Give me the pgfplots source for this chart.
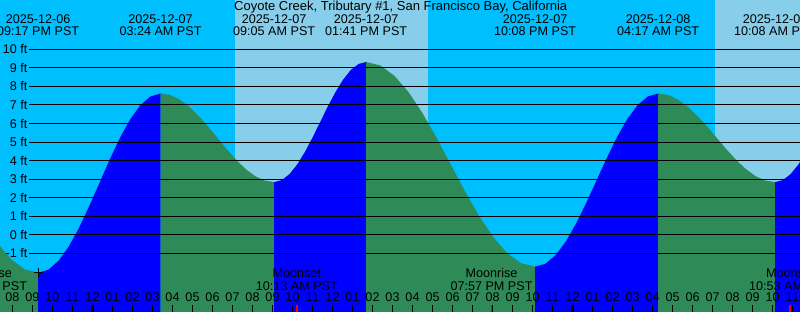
\documentclass[border=0pt]{standalone}
\usepackage{fontspec}
\setmainfont{Liberation Sans}
\usepackage{pgfplots}
\pgfplotsset{compat=1.18}
\definecolor{night}{RGB}{0,191,255}
\definecolor{day}{RGB}{135,206,235}
\definecolor{rise}{RGB}{0,0,255}
\definecolor{fall}{RGB}{46,139,87}
\newcommand\fs{\fontsize{12.6}{14}\selectfont}
\newcommand\ft{\fontsize{13}{15}\selectfont}
\begin{document}
\begin{tikzpicture}
\begin{axis}[
  at={(0pt,0pt)}, anchor=south west,
  width=800pt, height=312pt, scale only axis,
  xmin=-4.625, xmax=35.375, ymin=-4.163, ymax=12.661,
  axis lines=none, xtick=\empty, ytick=\empty, clip=true,
]
% night background
\addplot[fill=night, draw=none] coordinates {(-6,-5) (-6,13) (37,13) (37,-5)};
% day backgrounds
\addplot[fill=day, draw=none] coordinates {(7.125,-5) (7.125,13) (16.775,13) (16.775,-5)};
\addplot[fill=day, draw=none] coordinates {(31.125,-5) (31.125,13) (37,13) (37,-5)};
% tide: falling
\addplot[fill=fall, draw=none] coordinates {(-11,-5) (-11.000,9.250) (-10.310,9.057) (-9.619,8.493) (-8.929,7.595) (-8.239,6.425) (-7.549,5.062) (-6.859,3.600) (-6.168,2.138) (-5.478,0.775) (-4.788,-0.395) (-4.098,-1.293) (-3.407,-1.857) (-2.717,-2.050) (-2.717,-5)};
% rising
\addplot[fill=rise, draw=none] coordinates {(-2.717,-5) (-2.717,-2.050) (-2.207,-1.885) (-1.698,-1.402) (-1.188,-0.634) (-0.678,0.368) (-0.168,1.534) (0.342,2.785) (0.851,4.036) (1.361,5.203) (1.871,6.204) (2.381,6.972) (2.890,7.455) (3.400,7.620) (3.400,-5)};
% falling
\addplot[fill=fall, draw=none] coordinates {(3.400,-5) (3.400,7.620) (3.874,7.539) (4.347,7.300) (4.821,6.920) (5.294,6.425) (5.768,5.849) (6.242,5.230) (6.715,4.611) (7.189,4.035) (7.662,3.540) (8.136,3.160) (8.609,2.921) (9.083,2.840) (9.083,-5)};
% rising
\addplot[fill=rise, draw=none] coordinates {(9.083,-5) (9.083,2.840) (9.466,2.950) (9.850,3.274) (10.233,3.789) (10.616,4.460) (11.000,5.241) (11.383,6.080) (11.766,6.919) (12.150,7.700) (12.533,8.371) (12.916,8.886) (13.300,9.210) (13.683,9.320) (13.683,-5)};
% falling
\addplot[fill=fall, draw=none] coordinates {(13.683,-5) (13.683,9.320) (14.387,9.132) (15.091,8.580) (15.796,7.703) (16.500,6.560) (17.204,5.229) (17.908,3.800) (18.612,2.371) (19.316,1.040) (20.021,-0.103) (20.725,-0.981) (21.429,-1.532) (22.133,-1.720) (22.133,-5)};
% rising
\addplot[fill=rise, draw=none] coordinates {(22.133,-5) (22.133,-1.720) (22.646,-1.561) (23.158,-1.094) (23.671,-0.352) (24.183,0.615) (24.696,1.741) (25.208,2.950) (25.721,4.159) (26.233,5.285) (26.746,6.252) (27.258,6.994) (27.771,7.461) (28.283,7.620) (28.283,-5)};
% falling
\addplot[fill=fall, draw=none] coordinates {(28.283,-5) (28.283,7.620) (28.771,7.539) (29.258,7.300) (29.746,6.920) (30.233,6.425) (30.721,5.849) (31.208,5.230) (31.696,4.611) (32.183,4.035) (32.671,3.540) (33.158,3.160) (33.646,2.921) (34.133,2.840) (34.133,-5)};
% rising
\addplot[fill=rise, draw=none] coordinates {(34.133,-5) (34.133,2.840) (34.516,2.948) (34.899,3.266) (35.282,3.771) (35.665,4.430) (36.048,5.197) (36.048,-5)};
% grid lines and height labels
\pgfplotsinvokeforeach{-1,...,10}{
  \addplot[black, line width=1pt] coordinates {(-3.175,#1) (37,#1)};
  \node[anchor=east, inner sep=0pt, font=\fs] at (axis cs:-3.25,#1) {#1 ft};
}
% low-tide marker
\addplot[only marks, mark=+, mark size=4.5pt, black, line width=1pt] coordinates {(-2.717,-2.044)};
% hour ticks and labels
\pgfplotsinvokeforeach{-4,...,35}{
  \addplot[black, line width=1pt] coordinates {(#1,-4.3) (#1,-3.786)};
  \node[anchor=base, inner sep=0pt, font=\fs] at (axis cs:#1,-3.586) {\pgfmathtruncatemacro\hh{mod(#1+47,12)+1}\ifnum\hh<10 0\fi\hh};
}
\addplot[black, line width=3pt] coordinates {(0,-4.3) (0,-3.786)};
\addplot[black, line width=3pt] coordinates {(24,-4.3) (24,-3.786)};
\addplot[red, line width=1.5pt] coordinates {(10.217,-4.3) (10.217,-3.786)};
\addplot[red, line width=1.5pt] coordinates {(19.950,-4.3) (19.950,-3.786)};
\addplot[red, line width=1.5pt] coordinates {(34.883,-4.3) (34.883,-3.786)};
% moon labels
\node[anchor=base, inner sep=0pt, font=\fs] at (axis cs:-5.325,-2.329) {Moonrise};
\node[anchor=base, inner sep=0pt, font=\fs] at (axis cs:-5.325,-2.977) {06:40 PM PST};
\node[anchor=base, inner sep=0pt, font=\fs] at (axis cs:10.217,-2.329) {Moonset};
\node[anchor=base, inner sep=0pt, font=\fs] at (axis cs:10.217,-2.977) {10:13 AM PST};
\node[anchor=base, inner sep=0pt, font=\fs] at (axis cs:19.950,-2.329) {Moonrise};
\node[anchor=base, inner sep=0pt, font=\fs] at (axis cs:19.950,-2.977) {07:57 PM PST};
\node[anchor=base, inner sep=0pt, font=\fs] at (axis cs:34.883,-2.329) {Moonset};
\node[anchor=base, inner sep=0pt, font=\fs] at (axis cs:34.883,-2.977) {10:53 AM PST};
% title
\node[anchor=base, inner sep=0pt, font=\ft] at (axis cs:15.41,12.068) {Coyote Creek, Tributary \#1, San Francisco Bay, California};
% high/low labels
\node[anchor=base, inner sep=0pt, font=\fs] at (axis cs:-2.717,11.367) {2025-12-06};
\node[anchor=base, inner sep=0pt, font=\fs] at (axis cs:-2.717,10.720) {09:17 PM PST};
\node[anchor=base, inner sep=0pt, font=\fs] at (axis cs:3.400,11.367) {2025-12-07};
\node[anchor=base, inner sep=0pt, font=\fs] at (axis cs:3.400,10.720) {03:24 AM PST};
\node[anchor=base, inner sep=0pt, font=\fs] at (axis cs:9.083,11.367) {2025-12-07};
\node[anchor=base, inner sep=0pt, font=\fs] at (axis cs:9.083,10.720) {09:05 AM PST};
\node[anchor=base, inner sep=0pt, font=\fs] at (axis cs:13.683,11.367) {2025-12-07};
\node[anchor=base, inner sep=0pt, font=\fs] at (axis cs:13.683,10.720) {01:41 PM PST};
\node[anchor=base, inner sep=0pt, font=\fs] at (axis cs:22.133,11.367) {2025-12-07};
\node[anchor=base, inner sep=0pt, font=\fs] at (axis cs:22.133,10.720) {10:08 PM PST};
\node[anchor=base, inner sep=0pt, font=\fs] at (axis cs:28.283,11.367) {2025-12-08};
\node[anchor=base, inner sep=0pt, font=\fs] at (axis cs:28.283,10.720) {04:17 AM PST};
\node[anchor=base, inner sep=0pt, font=\fs] at (axis cs:34.133,11.367) {2025-12-08};
\node[anchor=base, inner sep=0pt, font=\fs] at (axis cs:34.133,10.720) {10:08 AM PST};
\end{axis}
\pgfresetboundingbox
\path[use as bounding box] (current axis.south west) rectangle (current axis.north east);
\end{tikzpicture}
\end{document}
